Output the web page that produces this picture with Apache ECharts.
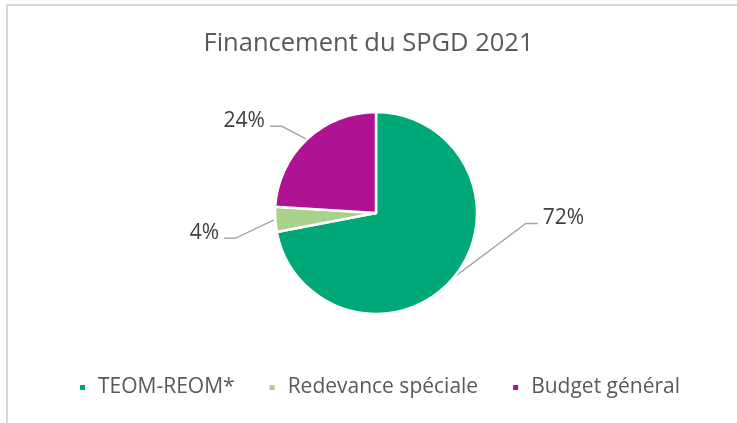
<!DOCTYPE html>
<html>
<head>
<meta charset="utf-8">
<script src="https://cdn.jsdelivr.net/npm/echarts@6/dist/echarts.min.js"></script>
<style>
  html, body { margin: 0; padding: 0; background: #fff; }
  #frame { position: absolute; left: 6px; top: 4px; width: 800px; height: 500px;
           border-top: 2px solid #d9d9d9; border-left: 2px solid #d9d9d9; }
  #chart { position: absolute; left: 0; top: 0; width: 737px; height: 423px; }
</style>
</head>
<body>
<div id="frame"></div>
<div id="chart"></div>
<script>
// data
const categories = ["TEOM-REOM*", "Redevance spéciale", "Budget général"];
const shares = [72, 4, 24];
const colors = ["#00a878", "#a9d18e", "#b01294"];

// leader line shape per slice: bend offset from the pie edge, then horizontal run
const leaders = [
  { dx: 72, dy: -54, run: 12, side: 1 },
  { dx: -40, dy: 19, run: 11, side: -1 },
  { dx: -25, dy: -13, run: 12, side: -1 },
];

let myChart = echarts.init(document.getElementById("chart"));

let option = {
  animation: false,
  color: colors,
  textStyle: { fontFamily: "Open Sans" },
  title: {
    text: "Financement du SPGD 2021",
    left: "center",
    top: 31,
    padding: 0,
    textStyle: { fontSize: 25.5, fontWeight: "normal", color: "#595959", fontFamily: "Open Sans" },
  },
  legend: {
    left: 78,
    top: 377,
    padding: 0,
    icon: "rect",
    itemWidth: 7,
    itemHeight: 7,
    itemGap: 33,
    data: categories,
    textStyle: { fontSize: 21, color: "#595959", padding: [0, 0, 0, 7], fontFamily: "Open Sans" },
  },
  series: [
    {
      name: "Financement",
      type: "pie",
      center: [376, 213],
      radius: 101,
      startAngle: 90,
      clockwise: true,
      itemStyle: { borderColor: "#ffffff", borderWidth: 2.5 },
      label: {
        show: true,
        position: "outside",
        formatter: (p) => p.value + "%",
        fontSize: 21,
        color: "#404040",
        fontFamily: "Open Sans",
      },
      labelLine: {
        show: true,
        length: 20,
        length2: 10,
        lineStyle: { color: "#a6a6a6", width: 1.5 },
      },
      labelLayout: function (params) {
        const l = leaders[params.dataIndex];
        const p0 = params.labelLinePoints[0];
        const p1 = [p0[0] + l.dx, p0[1] + l.dy];
        const p2 = [p1[0] + l.side * l.run, p1[1]];
        return {
          x: p2[0] + l.side * 5,
          y: p2[1] - 5,
          align: l.side > 0 ? "left" : "right",
          verticalAlign: "middle",
          labelLinePoints: [p0, p1, p2],
        };
      },
      emphasis: { disabled: true },
      data: categories.map((name, i) => ({ name: name, value: shares[i] })),
    },
  ],
};

myChart.setOption(option);
</script>
</body>
</html>
